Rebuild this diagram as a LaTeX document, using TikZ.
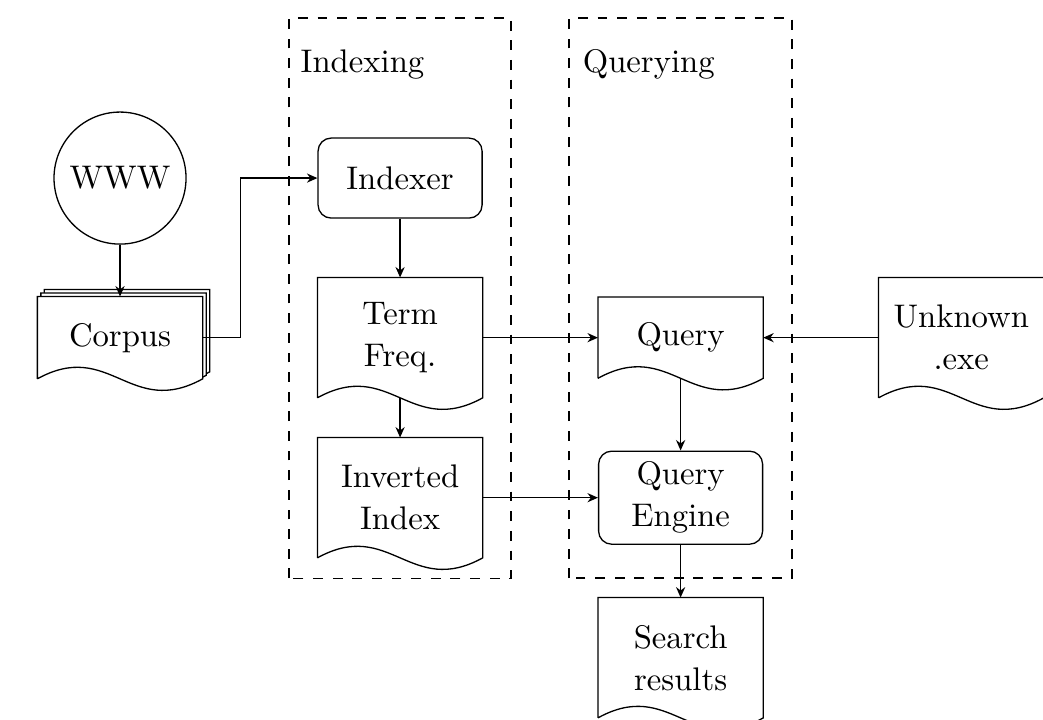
\documentclass[tikz,border=0pt]{standalone}
\usepackage{amsmath}
\usepackage{tikz}
\usetikzlibrary{arrows.meta,backgrounds}

\tikzset{
  procbox/.style={draw, rounded corners=4pt, minimum width=1.763cm, minimum height=0.86cm, align=center, inner sep=0pt},
  docbox/.style={minimum width=1.763cm, minimum height=1.279cm, align=center, inner sep=0pt},
  flow/.style={-{Stealth[length=3.2pt,width=2.8pt]}},
}
\newcommand{\wavedoc}[2][]{%
  \draw[#1] (#2.south west) -- (#2.north west) -- (#2.north east) -- (#2.south east)
    .. controls +(-0.78,-0.43) and +(0.78,0.43) .. (#2.south west);}

\begin{document}
\begin{tikzpicture}[font=\fontsize{10}{12.8}\selectfont]
\useasboundingbox (0,0) rectangle (11.21,7.73);

% phases
\draw[dashed] (3.107,1.516) rectangle (5.493,7.536);
\draw[dashed, thick] (6.117,1.516) rectangle (8.514,7.536);
\node[anchor=base west, inner sep=0pt] (indexing) at (3.225,6.955) {Indexing};
\node[anchor=base west, inner sep=0pt] (querying) at (6.257,6.955) {Querying};

% sources
\node[draw, circle, minimum size=1.419cm, inner sep=0pt] (www) at (1.29,5.816) {WWW};
\node[docbox, minimum height=0.871cm] (corpusback) at (1.365,4.176) {};
\node[docbox, minimum height=0.871cm] (corpusmid) at (1.328,4.139) {};
\node[docbox, minimum height=0.871cm] (corpus) at (1.29,4.101) {Corpus};
\begin{scope}[on background layer]
  \wavedoc[fill=white]{corpusback}
  \wavedoc[fill=white]{corpusmid}
  \wavedoc[fill=white]{corpus}
\end{scope}

% indexing
\node[procbox] (indexer) at (4.3,5.816) {Indexer};
\node[docbox] (termfreq) at (4.3,4.101) {Term\\Freq.};
\node[docbox] (inverted) at (4.3,2.381) {Inverted\\Index};
\wavedoc{termfreq}
\wavedoc{inverted}

% querying
\node[docbox, minimum height=0.86cm] (query) at (7.315,4.101) {Query};
\node[procbox, minimum height=1.0cm] (engine) at (7.315,2.381) {Query\\Engine};
\node[docbox] (results) at (7.315,0.661) {Search\\results};
\node[docbox] (unknown) at (10.331,4.101) {Unknown\\.exe};
\wavedoc{query}
\wavedoc{results}
\wavedoc{unknown}

% flows
\draw[flow] (www) -- (corpus.north);
\draw[flow] (corpus.east) -- ++(0.408,0) |- (indexer.west);
\draw[flow] (indexer) -- (termfreq.north);
\draw[flow] (termfreq.south) -- (inverted.north);
\draw[flow] (termfreq.east) -- (query.west);
\draw[flow] (unknown.west) -- (query.east);
\draw[flow] (inverted.east) -- (engine.west);
\draw[flow] (query.south) -- (engine.north);
\draw[flow] (engine.south) -- (results.north);
\end{tikzpicture}
\end{document}
